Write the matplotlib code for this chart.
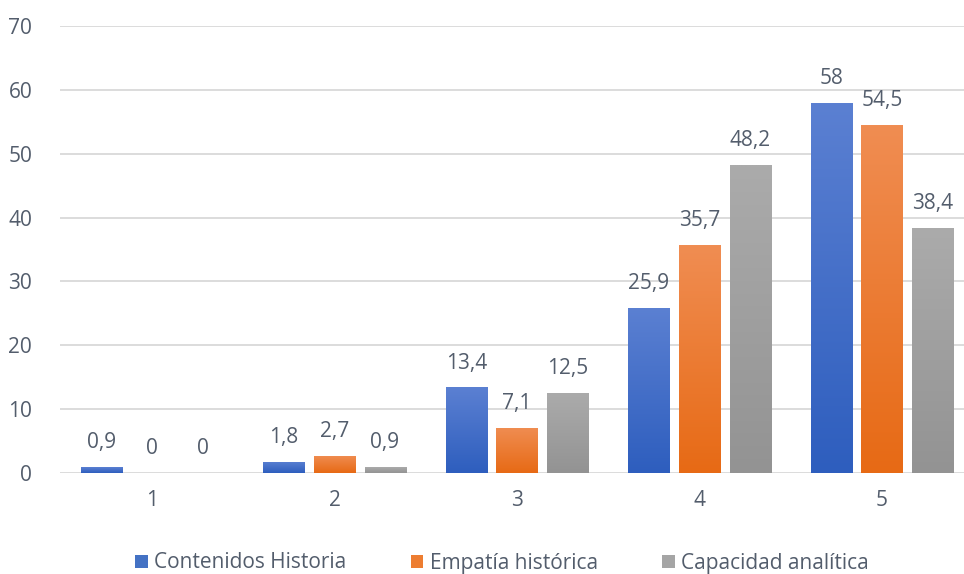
import matplotlib
matplotlib.use("Agg")
import matplotlib.pyplot as plt
import numpy as np
from matplotlib.patches import Patch

categories = ["1", "2", "3", "4", "5"]
series_names = ["Contenidos Historia", "Empatía histórica", "Capacidad analítica"]
contenidos = [0.9, 1.8, 13.4, 25.9, 58]
empatia = [0, 2.7, 7.1, 35.7, 54.5]
capacidad = [0, 0.9, 12.5, 48.2, 38.4]
yticks = [0, 10, 20, 30, 40, 50, 60, 70]

series = [contenidos, empatia, capacidad]
base_colors = ["#4472C4", "#ED7D31", "#A5A5A5"]
top_colors = ["#5B80D2", "#F08D52", "#ABABAB"]
bot_colors = ["#2E5EBE", "#E76A15", "#939393"]
text_color = "#535D6C"

plt.rcParams['font.family'] = ['Open Sans', 'DejaVu Sans']

fig = plt.figure(figsize=(9.64, 5.74), dpi=100)
ax = fig.add_axes([60/964, 1 - 473/574, (964-60)/964, (473-26)/574])

x = np.arange(1, len(categories) + 1)
width = 0.225
offset = 0.277

def hex2rgb(h):
    h = h.lstrip('#')
    return np.array([int(h[i:i+2], 16) / 255 for i in (0, 2, 4)])

for i, (vals, tc, bc) in enumerate(zip(series, top_colors, bot_colors)):
    xs = x + (i - 1) * offset
    bars = ax.bar(xs, vals, width=width, color=base_colors[i], zorder=2)
    t = hex2rgb(tc); b = hex2rgb(bc)
    grad = np.linspace(0, 1, 100)[:, None]
    img = (t[None, :] * (1 - grad) + b[None, :] * grad)[:, None, :]
    for bar in bars:
        h = bar.get_height()
        if h <= 0:
            continue
        x0 = bar.get_x(); w = bar.get_width()
        im = ax.imshow(img, extent=[x0, x0 + w, 0, h], aspect='auto', zorder=3,
                       interpolation='bilinear')
        im.set_clip_path(bar)
    for xi, v in zip(xs, vals):
        lab = f"{v:g}".replace('.', ',')
        ax.annotate(lab, (xi, v), xytext=(0, 10), textcoords='offset points',
                    ha='center', va='bottom', fontsize=15, color=text_color)

ax.set_xlim(1 - 92/182.5, 5 + 82/182.5)
ax.set_ylim(0, 70)
ax.set_yticks(yticks)
ax.set_yticklabels([str(v) for v in yticks])
ax.set_xticks(x)
ax.set_xticklabels(categories)
ax.tick_params(axis='both', length=0, labelsize=15, colors=text_color)
ax.tick_params(axis='y', pad=20)
ax.tick_params(axis='x', pad=12)
ax.grid(axis='y', color='#D9D9D9', linewidth=1.3, zorder=0)
ax.set_axisbelow(True)
for s in ax.spines.values():
    s.set_visible(False)

handles = [Patch(facecolor=c, edgecolor='none') for c in base_colors]
fig.legend(handles, series_names, loc='center', bbox_to_anchor=(502/964, 1 - 563/574),
           ncol=3, frameon=False, fontsize=15, labelcolor=text_color,
           handlelength=0.6, handleheight=0.6, handletextpad=0.3, columnspacing=3.1)

fig.savefig("out.png", dpi=100)
